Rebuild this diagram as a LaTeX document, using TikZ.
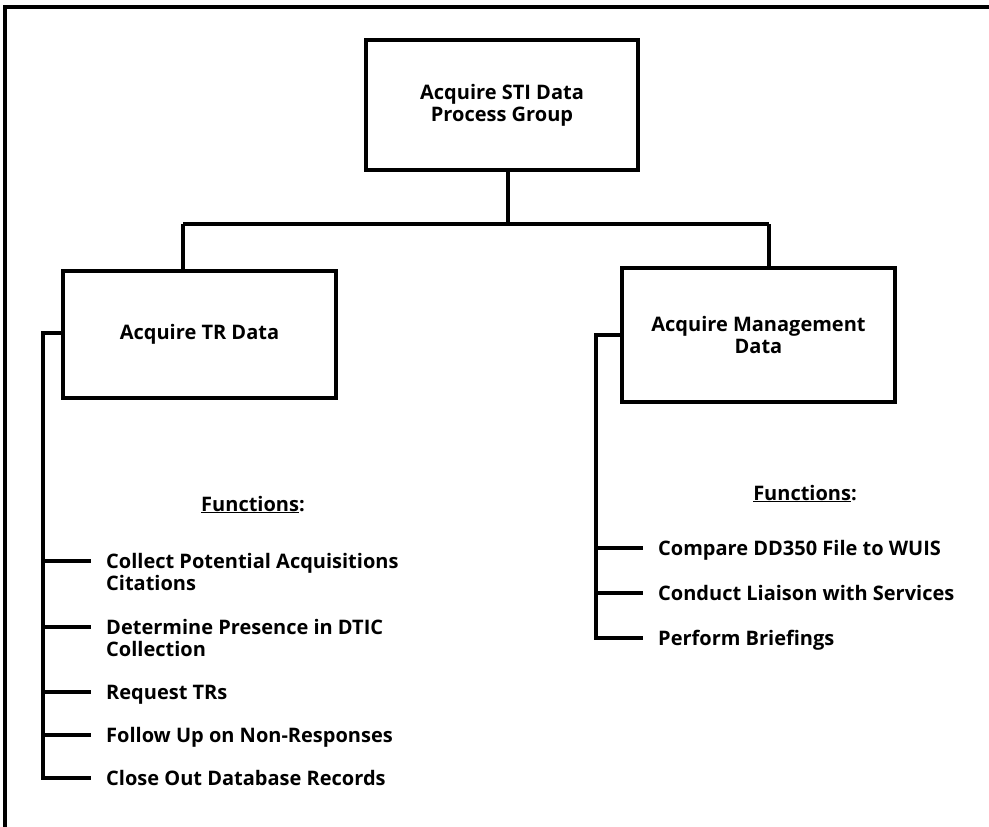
\documentclass[tikz,border=0pt]{standalone}
\usepackage{fontspec}
\setmainfont{Open Sans}
\begin{document}
\begin{tikzpicture}[x=1pt,y=-1pt,
  every node/.style={font=\fontsize{20}{22}\selectfont\bfseries},
  unitbox/.style={draw,line width=4pt,inner sep=0pt,align=center},
  link/.style={line width=4pt,line join=miter},
  item/.style={anchor=base west,inner sep=0pt,align=left},
  heading/.style={anchor=base,inner sep=0pt}]
\useasboundingbox (0,0) rectangle (989,827);

% page frame (top and left rules)
\draw[line width=4pt] (3,7) -- (989,7);
\draw[line width=4pt] (5,7) -- (5,827);

% unit boxes
\node[unitbox,minimum width=272,minimum height=130] (top) at (502,105)
  {Acquire STI Data\\Process Group};
\node[unitbox,minimum width=273,minimum height=127] (tr) at (199.5,334.5)
  {Acquire TR Data};
\node[unitbox,minimum width=273,minimum height=134] (mg) at (758.5,335)
  {Acquire Management\\Data};

% tree connectors
\coordinate (bus)  at (508,224);
\coordinate (busL) at (183,224);
\coordinate (busR) at (769,224);
\draw[link] (top.south -| bus) -- (bus);
\draw[link] (busL) -- (busR);
\draw[link] (busL) -- (busL |- tr.north);
\draw[link] (busR) -- (busR |- mg.north);

% TR data functions (base anchor sits on the last line of a node)
\node[heading] (fhL) at (253,511) {\underline{Functions}:};
\node[item] (a1) at (106,590) {Collect Potential Acquisitions\\Citations};
\node[item] (a2) at (106,656) {Determine Presence in DTIC\\Collection};
\node[item] (a3) at (106,699) {Request TRs};
\node[item] (a4) at (106,742) {Follow Up on Non-Responses};
\node[item] (a5) at (106,785) {Close Out Database Records};

\coordinate (sL) at (43,333);
\draw[link] (tr.west |- sL) -- (sL) -- (43,778) -- (91,778);
\foreach \y in {561,627,692,735}
  \draw[link] (43,\y) -- (91,\y);

% management data functions
\node[heading] (fhR) at (805,500) {\underline{Functions}:};
\node[item] (b1) at (658,555) {Compare DD350 File to WUIS};
\node[item] (b2) at (658,600) {Conduct Liaison with Services};
\node[item] (b3) at (658,645) {Perform Briefings};

\coordinate (sR) at (596,335);
\draw[link] (mg.west |- sR) -- (sR) -- (596,638) -- (643,638);
\foreach \y in {548,593}
  \draw[link] (596,\y) -- (643,\y);
\end{tikzpicture}
\end{document}
